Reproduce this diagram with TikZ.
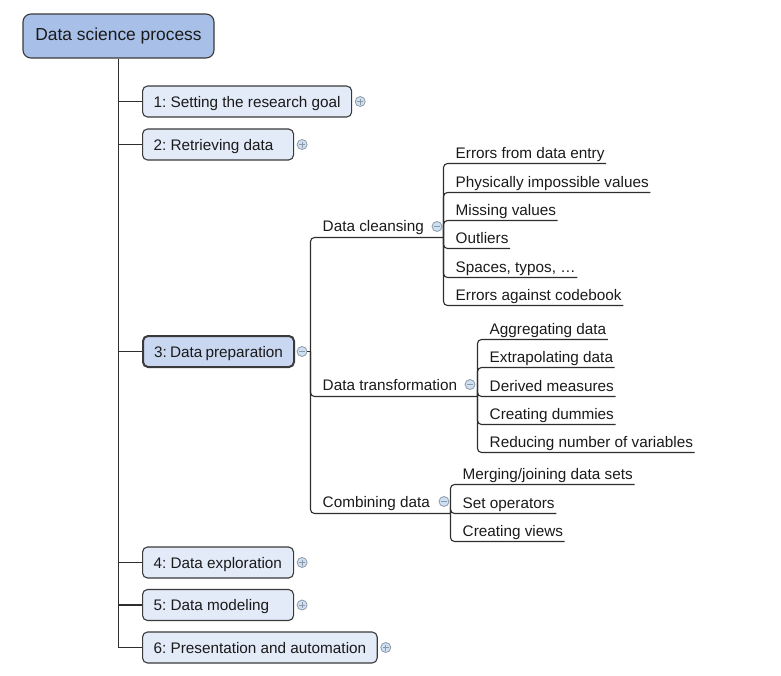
\documentclass[tikz,border=0pt]{standalone}
\usepackage{fontspec}
\setmainfont{Liberation Sans}
\frenchspacing
\definecolor{linec}{HTML}{2E2E2E}
\definecolor{boxline}{HTML}{3A3A3A}
\definecolor{rootfill}{HTML}{A8C0E8}
\definecolor{topicfill}{HTML}{E3EAF8}
\definecolor{selfill}{HTML}{C9D7F1}
\definecolor{iconfill}{HTML}{CFE0F3}
\definecolor{icongray}{HTML}{8C99A6}
\definecolor{txt}{HTML}{1A1A1A}
\begin{document}
\begin{tikzpicture}[x=1pt,y=-1pt, font=\fontsize{15.3}{18}\selectfont\frenchspacing, text=txt,
  conn/.style={draw=linec, line width=1.1pt, rounded corners=4pt},
  rootbox/.style={draw=boxline, fill=rootfill, rounded corners=8pt, line width=1.1pt, minimum width=191pt, minimum height=44pt, font=\fontsize{17.4}{20}\selectfont, inner sep=0pt},
  topic/.style={draw=boxline, fill=topicfill, rounded corners=5pt, line width=1.1pt, anchor=west, minimum height=31pt, inner xsep=11pt, inner ysep=0pt, text height=12.5pt, text depth=1.5pt},
  fixw/.style={execute at begin node={\hbox to 129pt\bgroup}, execute at end node={\hfil\egroup}},
  sel/.style={fill=selfill, line width=2pt},
  leaf/.style={anchor=south west, inner sep=0pt, text height=11pt, text depth=5pt, execute at begin node={\hspace*{12pt}}, execute at end node={\hspace*{1.5pt}}},
  mid/.style={leaf, text depth=6pt},
  iconbase/.style={circle, draw=icongray, fill=iconfill, line width=0.8pt, minimum size=10pt, inner sep=0pt},
  plusicon/.style={iconbase, path picture={\draw[icongray, line width=0.9pt] ([xshift=-3pt]path picture bounding box.center) -- ([xshift=3pt]path picture bounding box.center) ([yshift=-3pt]path picture bounding box.center) -- ([yshift=3pt]path picture bounding box.center);}},
  minusicon/.style={iconbase, path picture={\draw[icongray, line width=0.9pt] ([xshift=-3pt]path picture bounding box.center) -- ([xshift=3pt]path picture bounding box.center);}}
]
\useasboundingbox (0,0) rectangle (781,675);

% root and topics
\node[rootbox] (root) at (118.5,36) {Data science process};
\node[topic] (b1) at (142,101.5) {1: Setting the research goal};
\node[topic,fixw] (b2) at (142,144.5) {2: Retrieving data};
\node[topic,fixw,sel] (b3) at (142,351.5) {3: Data preparation};
\node[topic,fixw] (b4) at (142,562.5) {4: Data exploration};
\node[topic,fixw] (b5) at (142,605) {5: Data modeling};
\node[topic] (b6) at (142,647.5) {6: Presentation and automation};

\node[plusicon] (p1) at ([xshift=8pt]b1.east) {};
\node[plusicon] (p2) at ([xshift=8pt]b2.east) {};
\node[minusicon] (m3) at ([xshift=7pt]b3.east) {};
\node[plusicon] (p4) at ([xshift=8pt]b4.east) {};
\node[plusicon] (p5) at ([xshift=8pt]b5.east) {};
\node[plusicon] (p6) at ([xshift=8pt]b6.east) {};

% trunk
\draw[conn, rounded corners=0pt] (root.south) |- (b6.west);
\draw[conn] (root.south |- b1.west) -- (b1.west);
\draw[conn] (root.south |- b2.west) -- (b2.west);
\draw[conn] (root.south |- b3.west) -- (b3.west);
\draw[conn] (root.south |- b4.west) -- (b4.west);
\draw[conn, line width=1.9pt] (root.south |- b5.west) -- (b5.west);

% level 2
\coordinate (pj) at (310.5,351.5);
\draw[conn] (m3.east) -- (pj);

\node[mid] (dc) at (310.5,237.5) {Data cleansing};
\coordinate (dcj) at (443.5,237.5);
\node[minusicon] (mdc) at (437,226.5) {};
\draw[conn] (pj) |- (dcj);

\node[mid] (dt) at (310.5,396.5) {Data transformation};
\coordinate (dtj) at (477.5,396.5);
\node[minusicon] (mdt) at (470,384.5) {};
\draw[conn] (pj) |- (dtj);

\node[mid] (cd) at (310.5,513.5) {Combining data};
\coordinate (cdj) at (450.5,513.5);
\node[minusicon] (mcd) at (444,501.5) {};
\draw[conn] (pj) |- (cdj);

% data cleansing leaves
\node[leaf] (c1) at (443.5,163.5) {Errors from data entry};
\node[leaf] (c2) at (443.5,192.5) {Physically impossible values};
\node[leaf] (c3) at (443.5,220.5) {Missing values};
\node[leaf] (c4) at (443.5,248.5) {Outliers};
\node[leaf] (c5) at (443.5,277.5) {Spaces, typos, …};
\node[leaf] (c6) at (443.5,305.5) {Errors against codebook};
\foreach \n in {c1,c2,c3,c4,c5,c6} \draw[conn] (dcj) |- (\n.south east);

% data transformation leaves
\node[leaf] (t1) at (477.5,339.5) {Aggregating data};
\node[leaf] (t2) at (477.5,367.5) {Extrapolating data};
\node[leaf] (t3) at (477.5,396.5) {Derived measures};
\node[leaf] (t4) at (477.5,424.5) {Creating dummies};
\node[leaf] (t5) at (477.5,452.5) {Reducing number of variables};
\foreach \n in {t1,t2,t3,t4,t5} \draw[conn] (dtj) |- (\n.south east);

% combining data leaves
\node[leaf] (k1) at (450.5,484.5) {Merging/joining data sets};
\node[leaf] (k2) at (450.5,513.5) {Set operators};
\node[leaf] (k3) at (450.5,541.5) {Creating views};
\foreach \n in {k1,k2,k3} \draw[conn] (cdj) |- (\n.south east);
\end{tikzpicture}
\end{document}
